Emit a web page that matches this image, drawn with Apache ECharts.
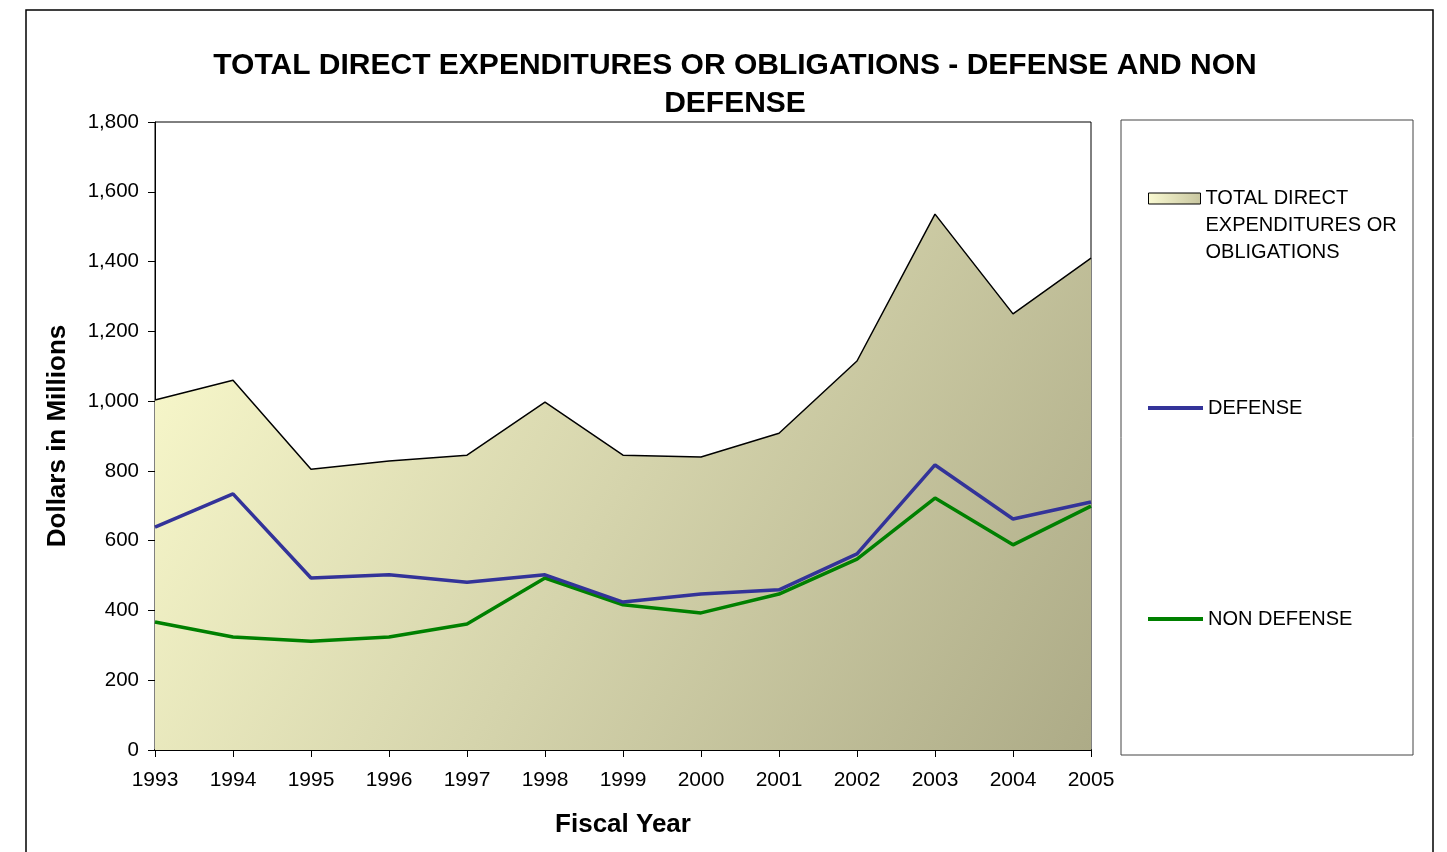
<!DOCTYPE html>
<html>
<head>
<meta charset="utf-8">
<script src="https://cdn.jsdelivr.net/npm/echarts@6/dist/echarts.min.js"></script>
<style>
  html, body { margin: 0; padding: 0; background: #fff; }
  #chart { width: 1447px; height: 852px; }
</style>
</head>
<body>
<div id="chart"></div>
<script>
const years = ['1993','1994','1995','1996','1997','1998','1999','2000','2001','2002','2003','2004','2005'];
const totalValues = [1003, 1060, 805, 828, 845, 997, 845, 840, 908, 1115, 1536, 1250, 1410];
const defenseValues = [639, 734, 493, 502, 481, 502, 424, 447, 459, 562, 817, 662, 711];
const nonDefenseValues = [367, 324, 312, 324, 361, 493, 416, 393, 447, 547, 722, 588, 699];
const seriesNames = ['TOTAL DIRECT EXPENDITURES OR OBLIGATIONS', 'DEFENSE', 'NON DEFENSE'];
const titleText = 'TOTAL DIRECT EXPENDITURES OR OBLIGATIONS - DEFENSE AND NON\nDEFENSE';

const FONT = '"Liberation Sans", Arial, sans-serif';
const areaGradient = new echarts.graphic.LinearGradient(0, 0, 1, 1, [
  { offset: 0, color: '#FCFCCE' },
  { offset: 0.5, color: '#D5D4AC' },
  { offset: 1, color: '#ADAB87' }
]);
const legendGradient = new echarts.graphic.LinearGradient(0, 0, 1, 0, [
  { offset: 0, color: '#FAFAD2' },
  { offset: 1, color: '#C8C6A0' }
]);

const chart = echarts.init(document.getElementById('chart'), null, { renderer: 'canvas' });
const option = {
  backgroundColor: '#fff',
  animation: false,
  textStyle: { fontFamily: FONT },
  title: {
    text: titleText,
    left: 730,
    top: 42,
    textAlign: 'center',
    textStyle: { fontFamily: FONT, fontSize: 30, fontWeight: 'bold', color: '#000', lineHeight: 38 }
  },
  graphic: [
    { type: 'rect', shape: { x: 26, y: 10, width: 1407, height: 870 }, style: { fill: 'none', stroke: '#000', lineWidth: 1.5 }, silent: true, z: -1 },
    { type: 'rect', shape: { x: 1121, y: 120, width: 292, height: 635 }, style: { fill: '#fff', stroke: '#444', lineWidth: 1 }, silent: true, z: -1 }
  ],
  legend: [
    {
      left: 1148, top: 131, orient: 'vertical', padding: 0,
      itemWidth: 52, itemHeight: 11, itemGap: 0,
      data: [{ name: seriesNames[0], icon: 'rect', itemStyle: { color: legendGradient, borderColor: '#000', borderWidth: 1 } }],
      formatter: () => '\n\nTOTAL DIRECT\nEXPENDITURES OR\nOBLIGATIONS',
      textStyle: { fontFamily: FONT, fontSize: 20, color: '#000', lineHeight: 27 },
      selectedMode: false
    },
    {
      left: 1148, top: 398, orient: 'vertical', padding: 0,
      itemWidth: 55, itemHeight: 4,
      data: [{ name: seriesNames[1], icon: 'rect', itemStyle: { color: '#333399' } }],
      textStyle: { fontFamily: FONT, fontSize: 20, color: '#000' },
      selectedMode: false
    },
    {
      left: 1148, top: 609, orient: 'vertical', padding: 0,
      itemWidth: 55, itemHeight: 4,
      data: [{ name: seriesNames[2], icon: 'rect', itemStyle: { color: '#008000' } }],
      textStyle: { fontFamily: FONT, fontSize: 20, color: '#000' },
      selectedMode: false
    }
  ],
  grid: {
    left: 155, right: 356, top: 122, bottom: 102,
    show: true, borderColor: '#000', borderWidth: 1, backgroundColor: 'transparent'
  },
  xAxis: {
    type: 'category',
    data: years,
    boundaryGap: false,
    name: 'Fiscal Year',
    nameLocation: 'middle',
    nameGap: 62,
    nameTextStyle: { fontFamily: FONT, fontSize: 26, fontWeight: 'bold', color: '#000' },
    axisLine: { show: true, lineStyle: { color: '#000', width: 2 } },
    axisTick: { show: true, length: 7, lineStyle: { color: '#000' } },
    axisLabel: { fontFamily: FONT, fontSize: 21, color: '#000', margin: 20 },
    splitLine: { show: false }
  },
  yAxis: {
    type: 'value',
    min: 0, max: 1800, interval: 200,
    name: 'Dollars in Millions',
    nameLocation: 'middle',
    nameGap: 84,
    nameTextStyle: { fontFamily: FONT, fontSize: 26, fontWeight: 'bold', color: '#000' },
    axisLine: { show: true, lineStyle: { color: '#000', width: 1 } },
    axisTick: { show: true, length: 7, lineStyle: { color: '#000' } },
    axisLabel: {
      fontFamily: FONT, fontSize: 20.5, color: '#000', margin: 16,
      formatter: v => v.toLocaleString('en-US')
    },
    splitLine: { show: false }
  },
  series: [
    {
      name: seriesNames[0], type: 'line', data: totalValues,
      symbol: 'none', z: 1,
      lineStyle: { color: '#000', width: 1.5 },
      itemStyle: { color: '#D7D6AE' },
      areaStyle: { color: areaGradient, opacity: 1 }
    },
    {
      name: seriesNames[1], type: 'line', data: defenseValues,
      symbol: 'none', z: 3,
      lineStyle: { color: '#333399', width: 3.5 },
      itemStyle: { color: '#333399' }
    },
    {
      name: seriesNames[2], type: 'line', data: nonDefenseValues,
      symbol: 'none', z: 2,
      lineStyle: { color: '#008000', width: 3.5 },
      itemStyle: { color: '#008000' }
    }
  ]
};
chart.setOption(option);
</script>
</body>
</html>
